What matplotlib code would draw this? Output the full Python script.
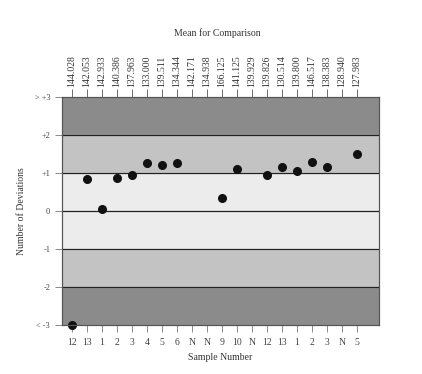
import numpy as np
import matplotlib
matplotlib.use("Agg")
import matplotlib.pyplot as plt

plt.rcParams['font.family'] = ['Liberation Serif', 'DejaVu Serif']

# sample numbers along the bottom, comparison means along the top
sample_labels = ['12', '13', '1', '2', '3', '4', '5', '6', 'N', 'N',
                 '9', '10', 'N', '12', '13', '1', '2', '3', 'N', '5']
mean_labels = ['144.028', '142.053', '142.933', '140.386', '137.963', '133.000',
               '139.511', '134.344', '142.171', '134.938', '166.125', '141.125',
               '139.929', '139.826', '130.514', '139.800', '146.517', '138.383',
               '128.940', '127.983']
# deviations (None = no point plotted)
deviations = [-3.0, 0.85, 0.05, 0.87, 0.95, 1.25, 1.2, 1.25, None, None,
              0.35, 1.1, None, 0.95, 1.15, 1.05, 1.3, 1.15, None, 1.5]
ytick_labels = ['< -3', '-2', '-1', '0', '+1', '+2', '> +3']

fig = plt.figure(figsize=(4.22, 3.74), dpi=100)
ax = fig.add_axes([0.147, 0.131, 0.751, 0.61])

# shaded bands
ax.axhspan(2, 3, color='#8b8b8b', zorder=0)
ax.axhspan(-3, -2, color='#8b8b8b', zorder=0)
ax.axhspan(1, 2, color='#c3c3c3', zorder=0)
ax.axhspan(-2, -1, color='#c3c3c3', zorder=0)
ax.axhspan(-1, 1, color='#ececec', zorder=0)
for yv in [-2, -1, 0, 1, 2]:
    ax.axhline(yv, color='#222222', lw=0.9, zorder=1)

x = np.arange(len(sample_labels))
xs = [i for i, d in zip(x, deviations) if d is not None]
ys = [d for d in deviations if d is not None]
ax.plot(xs, ys, 'o', color='#111111', ms=5.5, zorder=3, clip_on=False)

ax.set_xlim(-0.67, 20.47)
ax.set_ylim(-3, 3)
ax.set_yticks(range(-3, 4))
ax.set_yticklabels(ytick_labels, fontsize=6, color='#444444')
ax.set_xticks(x)
ax.set_xticklabels(sample_labels, fontsize=7, color='#444444')
ax.tick_params(axis='both', length=5, width=0.6, color='#777777')
ax.tick_params(axis='x', pad=4)

top = ax.twiny()
top.set_xlim(ax.get_xlim())
top.set_xticks(x)
top.set_xticklabels(mean_labels, rotation=90, fontsize=7, color='#333333')
top.tick_params(axis='x', length=6, width=0.6, color='#555555', pad=1)

for a in (ax, top):
    for s in a.spines.values():
        s.set_color('#555555')
        s.set_linewidth(0.8)

ax.set_ylabel('Number of Deviations', fontsize=7, color='#333333', labelpad=6)
ax.set_xlabel('Sample Number', fontsize=7, color='#333333', labelpad=5)
fig.text(0.515, 0.905, 'Mean for Comparison', ha='center', fontsize=7, color='#333333')

fig.savefig('out.png', dpi=100)
